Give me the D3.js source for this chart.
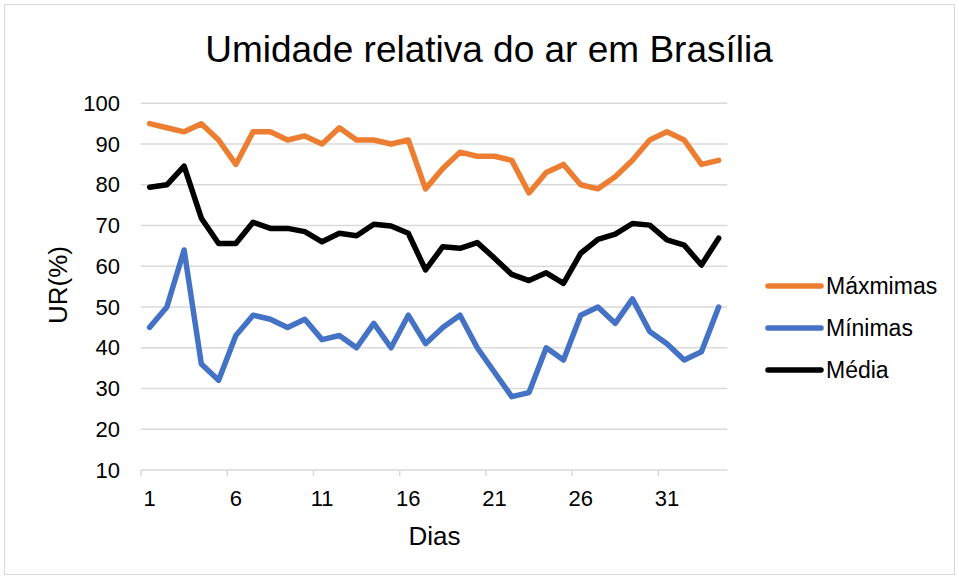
<!DOCTYPE html>
<html>
<head>
<meta charset="utf-8">
<script src="https://cdn.jsdelivr.net/npm/d3@7"></script>
<style>
  html, body { margin: 0; padding: 0; background: #fff; }
  svg text { font-family: "Liberation Sans", Arial, sans-serif; fill: #000; }
</style>
</head>
<body>
<svg id="chart" width="959" height="579"></svg>
<script>
const days = d3.range(1, 35);
const maximas = [95, 94, 93, 95, 91, 85, 93, 93, 91, 92, 90, 94, 91, 91, 90, 91, 79, 84, 88, 87, 87, 86, 78, 83, 85, 80, 79, 82, 86, 91, 93, 91, 85, 86];
const minimas = [45, 50, 64, 36, 32, 43, 48, 47, 45, 47, 42, 43, 40, 46, 40, 48, 41, 45, 48, 40, 34, 28, 29, 40, 37, 48, 50, 46, 52, 44, 41, 37, 39, 50];
const media = [79.4, 80, 84.6, 71.8, 65.6, 65.6, 70.8, 69.3, 69.3, 68.5, 66, 68.1, 67.5, 70.3, 69.9, 68.1, 59.1, 64.8, 64.4, 65.8, 62, 58, 56.5, 58.4, 55.8, 63.2, 66.6, 67.9, 70.5, 70.1, 66.5, 65.2, 60.3, 66.9];
const xTickLabels = [1, 6, 11, 16, 21, 26, 31];
const yTicks = [10, 20, 30, 40, 50, 60, 70, 80, 90, 100];
const seriesNames = ["Máxmimas", "Mínimas", "Média"];
const seriesColors = ["#ED7D31", "#4472C4", "#000000"];

const svg = d3.select("#chart");

// frame
svg.append("rect").attr("x", 4.5).attr("y", 4.5).attr("width", 950).attr("height", 570)
  .attr("fill", "#fff").attr("stroke", "#d9d9d9").attr("stroke-width", 1);

const x = d3.scaleBand().domain(days).range([141, 727.3]).padding(0);
const y = d3.scaleLinear().domain([10, 100]).range([470, 103.3]);
const cx = d => x(d) + x.bandwidth() / 2;

// gridlines
svg.append("g").selectAll("line").data(yTicks.filter(t => t > 10)).join("line")
  .attr("x1", 141).attr("x2", 727.3)
  .attr("y1", d => y(d)).attr("y2", d => y(d))
  .attr("stroke", "#d9d9d9").attr("stroke-width", 1.5);

// y axis labels
const yAxis = d3.axisLeft(y).tickValues(yTicks).tickSize(0).tickPadding(21);
const gy = svg.append("g").attr("transform", "translate(141,0)").call(yAxis);
gy.select(".domain").remove();
gy.selectAll("text").attr("font-size", 22).attr("fill", "#000")
  .style("font-family", "'Liberation Sans', Arial, sans-serif");

// x axis line & ticks
svg.append("line").attr("x1", 141).attr("x2", 727.3).attr("y1", y(10)).attr("y2", y(10))
  .attr("stroke", "#d9d9d9").attr("stroke-width", 1.5);
svg.append("g").selectAll("line").data(xTickLabels).join("line")
  .attr("x1", d => x(d)).attr("x2", d => x(d))
  .attr("y1", y(10)).attr("y2", y(10) + 6)
  .attr("stroke", "#d9d9d9").attr("stroke-width", 1.5);
svg.append("g").selectAll("text").data(xTickLabels).join("text")
  .attr("x", d => cx(d)).attr("y", 506)
  .attr("text-anchor", "middle").attr("font-size", 22)
  .text(d => d);

// lines
const allSeries = [maximas, minimas, media];
const line = d3.line().x((v, i) => cx(days[i])).y(v => y(v));
svg.append("g").selectAll("path").data(allSeries).join("path")
  .attr("d", d => line(d))
  .attr("fill", "none")
  .attr("stroke", (d, i) => seriesColors[i])
  .attr("stroke-width", 5.5)
  .attr("stroke-linejoin", "round")
  .attr("stroke-linecap", "round");

// title
svg.append("text").attr("x", 489).attr("y", 62).attr("text-anchor", "middle")
  .attr("font-size", 37).text("Umidade relativa do ar em Brasília");

// axis titles
svg.append("text").attr("x", 434.5).attr("y", 545).attr("text-anchor", "middle")
  .attr("font-size", 26).text("Dias");
svg.append("text").attr("transform", "translate(67,285) rotate(-90)")
  .attr("text-anchor", "middle").attr("font-size", 26).text("UR(%)");

// legend
const legendY = [286, 328, 370];
const lg = svg.append("g");
lg.selectAll("line").data(seriesNames).join("line")
  .attr("x1", 768).attr("x2", 821)
  .attr("y1", (d, i) => legendY[i]).attr("y2", (d, i) => legendY[i])
  .attr("stroke", (d, i) => seriesColors[i]).attr("stroke-width", 5.5)
  .attr("stroke-linecap", "round");
lg.selectAll("text").data(seriesNames).join("text")
  .attr("x", 826).attr("y", (d, i) => legendY[i] + 8)
  .attr("font-size", 23).text(d => d);
</script>
</body>
</html>
